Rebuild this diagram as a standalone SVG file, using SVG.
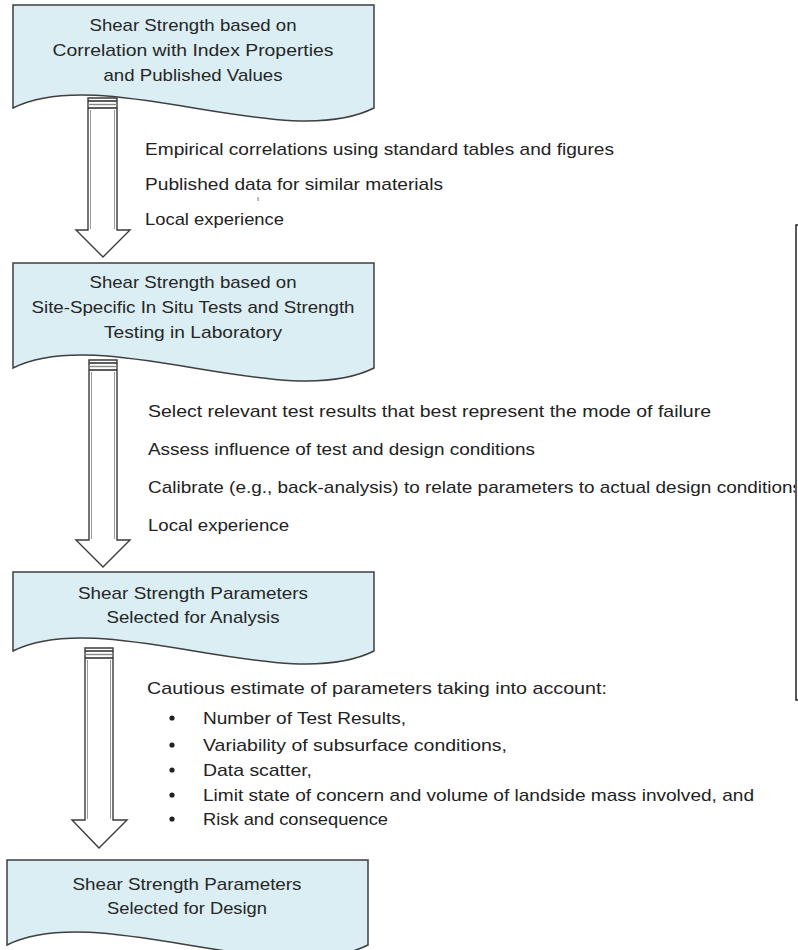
<svg xmlns="http://www.w3.org/2000/svg" width="798" height="950" viewBox="0 0 798 950">
<style>
.box{fill:#DAEEF3;stroke:#3f3f3f;stroke-width:1.5}
.t{font-family:"Liberation Sans",Arial,sans-serif;font-size:17px;fill:#222}
.bt{font-family:"Liberation Sans",Arial,sans-serif;font-size:17px;fill:#262626;text-anchor:middle}
.arr{fill:#fff;stroke:#3a3a3a;stroke-width:1.4}
.inner{stroke:#999;stroke-width:1;fill:none}
.bar{stroke:#333;stroke-width:1.6}
.bar2{stroke:#888;stroke-width:1.4}
</style>
<defs>
<clipPath id="clipR"><rect x="0" y="0" width="795" height="950"/></clipPath>
</defs>
<rect width="798" height="950" fill="#fff"/>

<g id="box1">
<path class="box" d="M13,5 H374 V108 C284,153 104,63 13,108 Z"/>
<text class="bt" x="193" y="31" textLength="207" lengthAdjust="spacingAndGlyphs">Shear Strength based on</text>
<text class="bt" x="193" y="56" textLength="281" lengthAdjust="spacingAndGlyphs">Correlation with Index Properties</text>
<text class="bt" x="193" y="81" textLength="179" lengthAdjust="spacingAndGlyphs">and Published Values</text>
</g>

<g id="box2">
<path class="box" d="M13,263 H374 V368 C284,413 104,323 13,368 Z"/>
<text class="bt" x="193" y="288" textLength="207" lengthAdjust="spacingAndGlyphs">Shear Strength based on</text>
<text class="bt" x="193" y="313" textLength="323" lengthAdjust="spacingAndGlyphs">Site-Specific In Situ Tests and Strength</text>
<text class="bt" x="193" y="338" textLength="178" lengthAdjust="spacingAndGlyphs">Testing in Laboratory</text>
</g>

<g id="box3">
<path class="box" d="M13,572 H374 V651 C284,696 104,606 13,651 Z"/>
<text class="bt" x="193" y="599" textLength="230" lengthAdjust="spacingAndGlyphs">Shear Strength Parameters</text>
<text class="bt" x="193" y="623" textLength="173" lengthAdjust="spacingAndGlyphs">Selected for Analysis</text>
</g>

<g id="box4">
<path class="box" d="M7,860 H368 V945 C278,990 98,900 7,945 Z"/>
<text class="bt" x="187" y="890" textLength="229" lengthAdjust="spacingAndGlyphs">Shear Strength Parameters</text>
<text class="bt" x="187" y="914" textLength="160" lengthAdjust="spacingAndGlyphs">Selected for Design</text>
</g>

<g id="connectors">
<g id="arrow1">
<polygon class="arr" points="88,98 117,98 117,230 130,230 103,257 76,230 88,230"/>
<line class="inner" x1="90.5" y1="110" x2="90.5" y2="229"/>
<line class="inner" x1="114.5" y1="110" x2="114.5" y2="229"/>
<line class="bar" x1="88" y1="101" x2="117" y2="101"/>
<line class="bar2" x1="88" y1="104.5" x2="117" y2="104.5"/>
<line class="bar" x1="88" y1="108" x2="117" y2="108"/>
</g>
<g id="arrow2">
<polygon class="arr" points="89,360 117,360 117,540 130,540 103,567 76,540 89,540"/>
<line class="inner" x1="91.5" y1="372" x2="91.5" y2="539"/>
<line class="inner" x1="114.5" y1="372" x2="114.5" y2="539"/>
<line class="bar" x1="89" y1="363" x2="117" y2="363"/>
<line class="bar2" x1="89" y1="366.5" x2="117" y2="366.5"/>
<line class="bar" x1="89" y1="370" x2="117" y2="370"/>
</g>
<g id="arrow3">
<polygon class="arr" points="85,648 113,648 113,820 127,820 99,848 72,820 85,820"/>
<line class="inner" x1="87.5" y1="660" x2="87.5" y2="819"/>
<line class="inner" x1="110.5" y1="660" x2="110.5" y2="819"/>
<line class="bar" x1="85" y1="651" x2="113" y2="651"/>
<line class="bar2" x1="85" y1="654.5" x2="113" y2="654.5"/>
<line class="bar" x1="85" y1="658" x2="113" y2="658"/>
</g>
</g>

<g id="notes1">
<text class="t" x="145" y="155" textLength="469" lengthAdjust="spacingAndGlyphs">Empirical correlations using standard tables and figures</text>
<text class="t" x="145" y="190" textLength="298" lengthAdjust="spacingAndGlyphs">Published data for similar materials</text>
<line x1="258" y1="197" x2="258" y2="201" stroke="#777" stroke-width="1"/>
<text class="t" x="145" y="225" textLength="139" lengthAdjust="spacingAndGlyphs">Local experience</text>
</g>

<g id="notes2">
<text class="t" x="148" y="417" textLength="563" lengthAdjust="spacingAndGlyphs">Select relevant test results that best represent the mode of failure</text>
<text class="t" x="148" y="455" textLength="387" lengthAdjust="spacingAndGlyphs">Assess influence of test and design conditions</text>
<text class="t" x="148" y="493" textLength="654" lengthAdjust="spacingAndGlyphs" clip-path="url(#clipR)">Calibrate (e.g., back-analysis) to relate parameters to actual design conditions</text>
<text class="t" x="148" y="531" textLength="141" lengthAdjust="spacingAndGlyphs">Local experience</text>
</g>

<g id="notes3">
<text class="t" x="147" y="694" textLength="460" lengthAdjust="spacingAndGlyphs">Cautious estimate of parameters taking into account:</text>
<circle cx="172" cy="718" r="2.6" fill="#222"/>
<text class="t" x="203" y="724" textLength="203" lengthAdjust="spacingAndGlyphs">Number of Test Results,</text>
<circle cx="172" cy="745" r="2.6" fill="#222"/>
<text class="t" x="203" y="751" textLength="304" lengthAdjust="spacingAndGlyphs">Variability of subsurface conditions,</text>
<circle cx="172" cy="770" r="2.6" fill="#222"/>
<text class="t" x="203" y="776" textLength="109" lengthAdjust="spacingAndGlyphs">Data scatter,</text>
<circle cx="172" cy="795" r="2.6" fill="#222"/>
<text class="t" x="203" y="801" textLength="551" lengthAdjust="spacingAndGlyphs">Limit state of concern and volume of landside mass involved, and</text>
<circle cx="172" cy="819" r="2.6" fill="#222"/>
<text class="t" x="203" y="825" textLength="185" lengthAdjust="spacingAndGlyphs">Risk and consequence</text>
</g>

<g id="bracket">
<path d="M799,225 H796 V700 H799" fill="none" stroke="#222" stroke-width="1.5"/>
</g>
</svg>
